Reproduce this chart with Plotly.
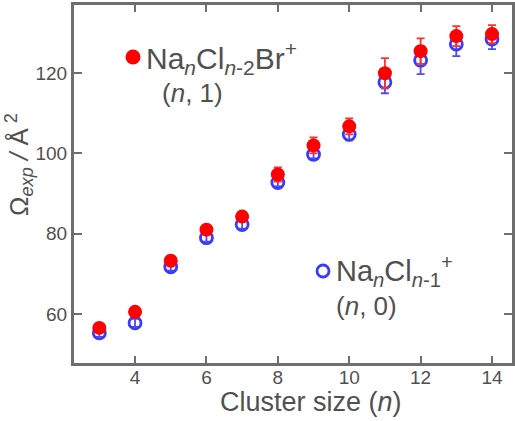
import plotly.graph_objects as go

n_vals = [3, 4, 5, 6, 7, 8, 9, 10, 11, 12, 13, 14]
omega_br = [56.5, 60.5, 73.25, 81.0, 84.25, 94.75, 102.0, 106.75, 120.0, 125.5, 129.25, 129.75]
err_br = [1.0, 1.0, 1.0, 1.0, 1.0, 1.75, 2.0, 2.0, 3.75, 3.2, 2.5, 2.25]
omega_cl = [55.25, 57.75, 71.75, 79.0, 82.25, 92.75, 99.75, 104.75, 117.75, 123.25, 127.25, 128.5]
err_cl = [1.0, 1.0, 1.0, 1.0, 1.0, 1.0, 1.0, 1.5, 2.75, 3.5, 3.0, 2.5]
x_ticks = [4, 6, 8, 10, 12, 14]
y_ticks = [60, 80, 100, 120]

FONT = "Liberation Sans, Arial, Helvetica, sans-serif"
TXT = "#505050"
AX = "#6e6e6e"
L, T, W, H = 74, 5, 438, 358

def px(xp):
    return (xp - L) / W

def py(yp):
    return (T + H - yp) / H

fig = go.Figure()
fig.add_trace(go.Scatter(
    x=n_vals, y=omega_cl, mode="markers",
    error_y=dict(type="data", array=err_cl, visible=True, color="#4b4bff", thickness=1.8, width=4),
    marker=dict(symbol="circle-open", size=12, color="#3a3aff", line=dict(width=2.8, color="#3a3aff")),
    showlegend=False))
fig.add_trace(go.Scatter(
    x=n_vals, y=omega_br, mode="markers",
    error_y=dict(type="data", array=err_br, visible=True, color="#ff3030", thickness=1.8, width=4),
    marker=dict(symbol="circle", size=14, color="#ff0000"),
    showlegend=False))

# legend markers as shapes
fig.add_shape(type="circle", xref="paper", yref="paper",
              xsizemode="pixel", ysizemode="pixel",
              xanchor=px(133), yanchor=py(57),
              x0=-7.5, x1=7.5, y0=-7.5, y1=7.5,
              fillcolor="#ff0000", line=dict(width=0))
fig.add_shape(type="circle", xref="paper", yref="paper",
              xsizemode="pixel", ysizemode="pixel",
              xanchor=px(323), yanchor=py(271),
              x0=-6, x1=6, y0=-6, y1=6,
              fillcolor="rgba(0,0,0,0)", line=dict(width=2.8, color="#3a3aff"))

fig.add_annotation(xref="paper", yref="paper", x=px(144), y=py(58),
                   xanchor="left", yanchor="middle", showarrow=False,
                   text="Na<sub><i>n</i></sub>Cl<sub><i>n</i>-2</sub>Br<sup>+</sup>",
                   font=dict(family=FONT, size=30, color=TXT))
fig.add_annotation(xref="paper", yref="paper", x=px(192), y=py(93),
                   xanchor="center", yanchor="middle", showarrow=False,
                   text="(<i>n</i>, 1)",
                   font=dict(family=FONT, size=26, color=TXT))
fig.add_annotation(xref="paper", yref="paper", x=px(334), y=py(271),
                   xanchor="left", yanchor="middle", showarrow=False,
                   text="Na<sub><i>n</i></sub>Cl<sub><i>n</i>-1</sub><sup>+</sup>",
                   font=dict(family=FONT, size=29, color=TXT))
fig.add_annotation(xref="paper", yref="paper", x=px(366), y=py(306),
                   xanchor="center", yanchor="middle", showarrow=False,
                   text="(<i>n</i>, 0)",
                   font=dict(family=FONT, size=26, color=TXT))
# axis titles
fig.add_annotation(xref="paper", yref="paper", x=px(311), y=py(402),
                   xanchor="center", yanchor="middle", showarrow=False,
                   text="Cluster size (<i>n</i>)",
                   font=dict(family=FONT, size=27, color=TXT))
fig.add_annotation(xref="paper", yref="paper", x=px(19), y=py(165),
                   xanchor="center", yanchor="middle", showarrow=False, textangle=-90,
                   text="Ω<sub><i>exp</i></sub> <i>/</i> Å<sup> 2</sup>",
                   font=dict(family=FONT, size=26, color=TXT))

fig.update_xaxes(range=[2.29, 14.56], tickvals=x_ticks, ticks="inside", ticklen=7, tickwidth=1.5,
                 tickcolor=AX, showline=True, linecolor=AX, linewidth=3, mirror="ticks",
                 showgrid=False, zeroline=False, automargin=False, ticklabelstandoff=-5,
                 tickfont=dict(family=FONT, size=19, color=TXT))
fig.update_yaxes(range=[47.75, 137.0], tickvals=y_ticks, ticks="inside", ticklen=8, tickwidth=1.5,
                 tickcolor=AX, showline=True, linecolor=AX, linewidth=3, mirror="ticks",
                 showgrid=False, zeroline=False, automargin=False,
                 tickfont=dict(family=FONT, size=19, color=TXT))

fig.update_layout(width=515, height=421, margin=dict(l=L, r=515 - L - W, t=T, b=421 - T - H, autoexpand=False),
                  paper_bgcolor="white", plot_bgcolor="white")
fig.write_html("out.html", config={"displayModeBar": False},
               post_script="document.body.style.margin='0';document.body.style.overflow='hidden';")
